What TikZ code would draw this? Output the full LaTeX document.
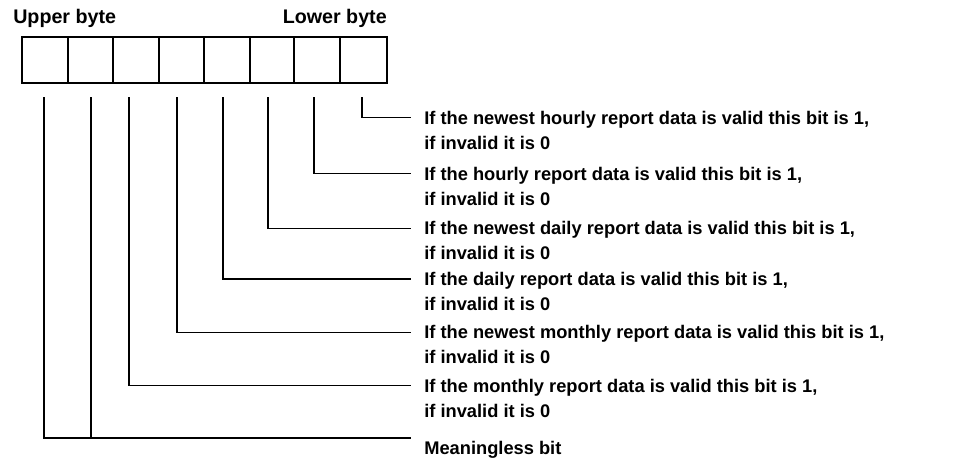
\documentclass[tikz,border=0pt]{standalone}
\usepackage{fontspec}
\setmainfont{Liberation Sans}
\usetikzlibrary{calc}
\tikzset{
  lead/.style={line width=0.9pt},
  heading/.style={font=\bfseries\fontsize{14}{16}\selectfont, inner sep=0pt},
  bitlabel/.style={font=\bfseries\fontsize{13}{17.8}\selectfont, align=left, anchor=north west, inner sep=0pt}
}
\begin{document}
\begin{tikzpicture}[x=0.025cm,y=-0.025cm]
\useasboundingbox (0,0) rectangle (972,462);
% byte headings
\node[heading, anchor=base west] (upper) at (13,23.5) {Upper byte};
\node[heading, anchor=base east] (lower) at (387,23.5) {Lower byte};
% the eight bit cells
\draw[lead] (22,37) rectangle (387,83);
\foreach \x in {68,113,159,204,250,294,340}
  \draw[lead] (\x,37) -- (\x,83);
% meaning of each bit
\node[bitlabel] (l8) at (424,110.7) {If the newest hourly report data is valid this bit is 1,\\if invalid it is 0};
\node[bitlabel] (l7) at (424,166.7) {If the hourly report data is valid this bit is 1,\\if invalid it is 0};
\node[bitlabel] (l6) at (424,221.3) {If the newest daily report data is valid this bit is 1,\\if invalid it is 0};
\node[bitlabel] (l5) at (424,272) {If the daily report data is valid this bit is 1,\\if invalid it is 0};
\node[bitlabel] (l4) at (424,325.3) {If the newest monthly report data is valid this bit is 1,\\if invalid it is 0};
\node[bitlabel] (l3) at (424,378.7) {If the monthly report data is valid this bit is 1,\\if invalid it is 0};
\node[bitlabel] (l1) at (424,441) {Meaningless bit};
% leads
\foreach \x [count=\i] in {44,91,129,177,223,268,314,362}
  \coordinate (t\i) at (\x,97);
\foreach \i in {3,...,8}
  \draw[lead] (t\i) |- ($(l\i.north west)+(-13,7)$);
\coordinate (m) at ($(l1.north west)+(-13,-3)$);
\draw[lead] (t1) |- (m);
\draw[lead] (t2) -- (t2 |- m);
\end{tikzpicture}
\end{document}
